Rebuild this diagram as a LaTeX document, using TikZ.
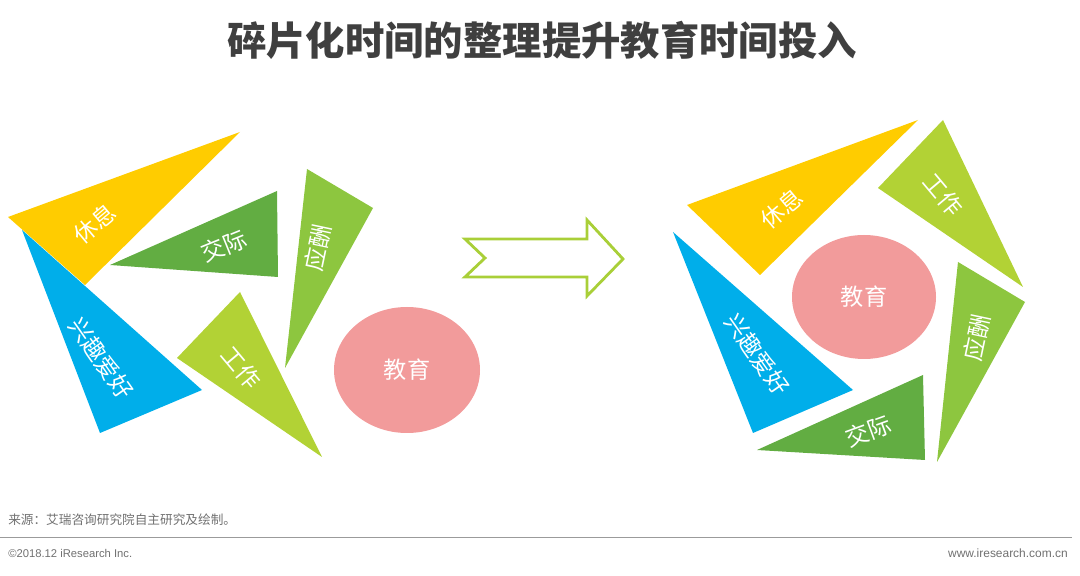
\documentclass[tikz,border=0pt]{standalone}
\usepackage{fontspec}
\setmainfont{Noto Sans CJK SC}
\newfontfamily\latinfont{Liberation Sans}
\usetikzlibrary{positioning}

\definecolor{restyellow}{HTML}{FFCC00}
\definecolor{hobbyblue}{HTML}{00AEEA}
\definecolor{socialgreen}{HTML}{62AD42}
\definecolor{dutygreen}{HTML}{8DC63F}
\definecolor{workgreen}{HTML}{B2D235}
\definecolor{edupink}{HTML}{F29B9B}
\definecolor{arrowgreen}{HTML}{A9CF38}
\definecolor{titlegray}{HTML}{3F3F3F}
\definecolor{footgray}{HTML}{707070}

\tikzset{
  tri label/.style={text=white, font=\fontsize{16.5}{16.5}\selectfont, inner sep=0pt},
  foot/.style={text=footgray, anchor=west, inner sep=0pt}
}

\begin{document}
\begin{tikzpicture}[x=0.025cm, y=-0.025cm]
            \useasboundingbox (0,0) rectangle (1080,576);
            \node[text=titlegray, font=\fontsize{28}{28}\selectfont\bfseries](title) at (542,40) {碎片化时间的整理提升教育时间投入};

            % before
            \fill[restyellow]  (8,217)   -- (240,132) -- (85,285)  -- cycle;
            \fill[hobbyblue]   (22,230)  -- (202,390) -- (100,433) -- cycle;
            \fill[socialgreen] (110,265) -- (277,191) -- (278,277) -- cycle;
            \fill[dutygreen]   (307,169) -- (373,208) -- (285,368) -- cycle;
            \fill[workgreen]   (240,292) -- (177,358) -- (322,457) -- cycle;
            \fill[edupink] (407,370) ellipse [x radius=73, y radius=63];
            \node[tri label, rotate=40 ](restA)   at (95,224)  {休息};
            \node[tri label, rotate=-55](hobbyA)  at (101,358) {兴趣爱好};
            \node[tri label, rotate=22 ](socialA) at (224,246) {交际};
            \node[tri label, rotate=78 ](dutyA)   at (318,248) {应酬};
            \node[tri label, rotate=-50](workA)   at (241,368) {工作};
            \node[tri label](eduA) at (407,370) {教育};

            % arrow
            \draw[arrowgreen, line width=2pt, line join=miter]
                (465,239) -- (587,239) -- (587,220) -- (623,259) -- (587,296)
                -- (587,277) -- (465,277) -- (485,258) -- cycle;

            % after
            \fill[restyellow]  (687,205) -- (918,120) -- (760,275) -- cycle;
            \fill[workgreen]   (878,188) -- (943,120) -- (1023,287) -- cycle;
            \fill[hobbyblue]   (673,232) -- (853,390) -- (753,433) -- cycle;
            \fill[dutygreen]   (958,262) -- (1025,302) -- (937,462) -- cycle;
            \fill[socialgreen] (923,375) -- (757,450) -- (925,460) -- cycle;
            \fill[edupink] (864,297) ellipse [x radius=72, y radius=62];
            \node[tri label, rotate=40 ](restB)   at (782,209) {休息};
            \node[tri label, rotate=-50](workB)   at (943,195) {工作};
            \node[tri label, rotate=-55](hobbyB)  at (757,354) {兴趣爱好};
            \node[tri label, rotate=78 ](dutyB)   at (977,338) {应酬};
            \node[tri label, rotate=20 ](socialB) at (868,431) {交际};
            \node[tri label](eduB) at (864,297) {教育};

            % footer
            \node[foot, font=\fontsize{9}{9}\selectfont](source) at (8,520) {来源：艾瑞咨询研究院自主研究及绘制。};
            \draw[footgray!70, line width=0.7pt] (0,537) -- (1072,537);
            \node[foot, font=\latinfont\fontsize{8}{8}\selectfont](copy) at (8,553) {©2018.12 iResearch Inc.};
            \node[foot, anchor=east, font=\latinfont\fontsize{8.5}{8.5}\selectfont](url) at (1068,553) {www.iresearch.com.cn};
\end{tikzpicture}
\end{document}
